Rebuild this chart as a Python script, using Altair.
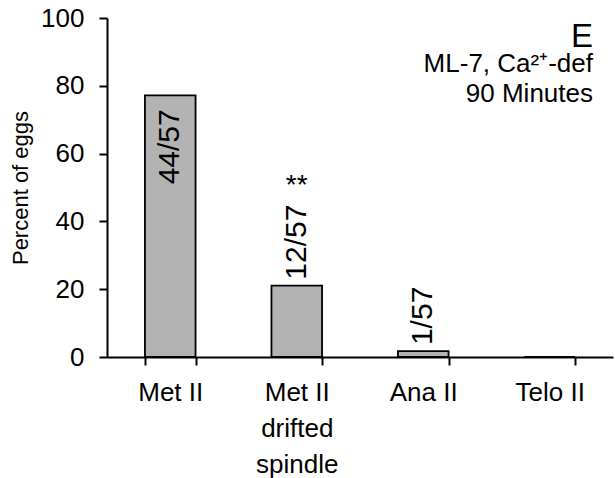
import altair as alt
import pandas as pd

categories = ["Met II", "Met II\ndrifted\nspindle", "Ana II", "Telo II"]
percents = [77.2, 21.05, 1.75, 0.0]
bar_labels = ["44/57", "12/57", "1/57", ""]
label_inside = [True, False, False, False]
significance = ["", "**", "", ""]

df = pd.DataFrame({
    "cat": categories,
    "pct": percents,
    "lab": bar_labels,
    "inside": label_inside,
    "sig": significance,
})

FONT = "Liberation Sans"
W, H = 506, 339

x = alt.X("cat:N", sort=categories,
          scale=alt.Scale(paddingInner=0.6, paddingOuter=0.3),
          axis=alt.Axis(title=None, labelAngle=0, tickBand="extent", tickSize=8,
                        tickWidth=2, domainWidth=2, domainColor="black", tickColor="black",
                        labelFontSize=26, labelFont=FONT, labelColor="black",
                        labelPadding=14, labelLineHeight=36,
                        labelExpr="split(datum.label, '\\n')"))
yscale = alt.Scale(domain=[0, 100], nice=False)
y = alt.Y("pct:Q", scale=yscale,
          axis=alt.Axis(title="Percent of eggs", values=list(range(0, 101, 10)),
                        labelExpr="datum.value % 20 == 0 ? datum.label : ''",
                        tickSize=8, tickWidth=2, domainWidth=2, domainColor="black",
                        tickColor="black", grid=False, labelFontSize=26, labelFont=FONT,
                        labelColor="black", labelPadding=15, titleFontSize=22,
                        titleFont=FONT, titleFontWeight="normal", titleColor="black",
                        titlePadding=8))

base = alt.Chart(df)

bars = base.mark_bar(fill="#b3b3b3", stroke="black", strokeWidth=1.8).encode(x=x, y=y)

lab_out = base.transform_filter("!datum.inside").mark_text(
    angle=270, align="left", baseline="middle", dx=6, fontSize=30, font=FONT, color="black"
).encode(x=alt.X("cat:N", sort=categories), y=alt.Y("pct:Q", scale=yscale), text="lab:N")

lab_in = base.transform_filter("datum.inside").mark_text(
    angle=270, align="right", baseline="middle", dx=-14, fontSize=30, font=FONT, color="black"
).encode(x=alt.X("cat:N", sort=categories), y=alt.Y("pct:Q", scale=yscale), text="lab:N")

sig = base.mark_text(baseline="middle", dy=-100, fontSize=28, font=FONT, color="black").encode(
    x=alt.X("cat:N", sort=categories), y=alt.Y("pct:Q", scale=yscale), text="sig:N")

panel_letter = ["E"]
note_line1 = ["ML-7, Ca²⁺-def"]
note_line2 = ["90 Minutes"]


def note(lines, size, ypix):
    return alt.Chart(pd.DataFrame({"t": lines})).mark_text(
        align="right", baseline="alphabetic", fontSize=size, font=FONT, color="black"
    ).encode(text="t:N", x=alt.value(486), y=alt.value(ypix))


chart = alt.layer(
    bars, lab_out, lab_in, sig,
    note(panel_letter, 33, 29), note(note_line1, 26, 54), note(note_line2, 26, 84),
).properties(
    width=W, height=H,
    autosize=alt.AutoSizeParams(type="none"),
    padding={"left": 107, "top": 18, "right": 2, "bottom": 121},
).configure_view(stroke=None)

chart.save("out.html", embed_options={"renderer": "svg", "actions": False})
